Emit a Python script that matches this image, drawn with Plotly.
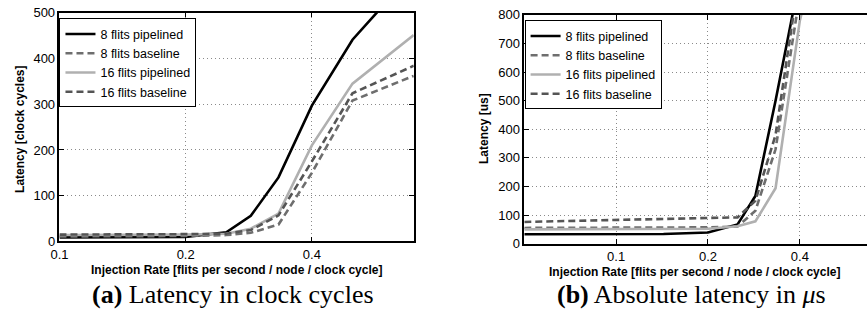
import plotly.graph_objects as go

# ---- (a) latency in clock cycles ----
rate_a = [0.1, 0.111, 0.125, 0.143, 0.167, 0.2, 0.25, 0.286, 0.333, 0.4, 0.5, 0.7]
cyc_8_pipe = [9, 9, 9, 9, 9, 10, 20, 56, 140, 297, 441, 590]
cyc_8_base = [11, 11, 11, 11, 11, 12, 14, 19, 37, 150, 308, 362]
cyc_16_pipe = [14, 14, 14, 14, 14, 15, 17, 28, 61, 210, 345, 451]
cyc_16_base = [15, 15, 15, 15, 15, 16, 17, 25, 57, 175, 324, 384]

# ---- (b) absolute latency in microseconds ----
rate_b = [0.05, 0.0667, 0.1, 0.143, 0.2, 0.25, 0.286, 0.333, 0.4, 0.5, 0.7]
us_8_pipe = [33, 33, 33, 34, 39, 67, 167, 500, 930, 1500, 2000]
us_8_base = [55, 55, 55, 56, 57, 60, 115, 330, 870, 1400, 1900]
us_16_pipe = [50, 50, 50, 50, 52, 61, 78, 194, 780, 1200, 1600]
us_16_base = [76, 79, 83, 87, 90, 92, 150, 380, 950, 1500, 2000]

series_names = ["8 flits pipelined", "8 flits baseline", "16 flits pipelined", "16 flits baseline"]
x_ticks = [0.1, 0.2, 0.4]
x_ticktext = ["0.1", "0.2", "0.4"]
ya_ticks = [0, 100, 200, 300, 400, 500]
yb_ticks = [0, 100, 200, 300, 400, 500, 600, 700, 800]

styles = [
    dict(color="#000000", width=2.6, dash="solid"),
    dict(color="#6e6e6e", width=2.6, dash="7px,4px"),
    dict(color="#b0b0b0", width=2.6, dash="solid"),
    dict(color="#555555", width=2.6, dash="7px,4px"),
]

SANS = "Liberation Sans, Arial, sans-serif"
SERIF = "Liberation Serif, Times New Roman, serif"

fig = go.Figure()

for name, ys, st in zip(series_names, [cyc_8_pipe, cyc_8_base, cyc_16_pipe, cyc_16_base], styles):
    fig.add_trace(go.Scatter(x=rate_a, y=ys, mode="lines", name=name, line=st,
                             xaxis="x", yaxis="y", legend="legend"))
for name, ys, st in zip(series_names, [us_8_pipe, us_8_base, us_16_pipe, us_16_base], styles):
    fig.add_trace(go.Scatter(x=rate_b, y=ys, mode="lines", name=name, line=st,
                             xaxis="x2", yaxis="y2", legend="legend2"))

W, H = 867, 320


def px_x(p):
    return p / W


def px_y(p):
    return 1 - p / H


axis_common = dict(
    showline=True, linecolor="black", linewidth=1.5,
    ticks="inside", ticklen=5, tickcolor="black", tickwidth=1,
    showgrid=True, gridcolor="#8a8a8a", gridwidth=1, griddash="1px,3px",
    zeroline=False, tickfont=dict(family=SANS, size=13, color="black"),
)

legend_common = dict(
    xanchor="left", yanchor="top",
    bgcolor="white", bordercolor="black", borderwidth=1,
    font=dict(family=SANS, size=12.5, color="black"),
    tracegroupgap=0, itemwidth=30,
)

fig.update_layout(
    width=W, height=H,
    margin=dict(l=0, r=0, t=0, b=0),
    paper_bgcolor="white", plot_bgcolor="white",
    showlegend=True,
    xaxis=dict(axis_common, type="log", domain=[px_x(51), px_x(409)],
               range=[-1, -0.154902], tickvals=x_ticks, ticktext=x_ticktext,
               mirror="allticks", anchor="y", ticklabelstandoff=0),
    yaxis=dict(axis_common, domain=[px_y(246), px_y(6)], range=[0, 500],
               tickvals=ya_ticks, mirror="allticks", anchor="x"),
    xaxis2=dict(axis_common, type="log", domain=[px_x(520.7), 1.0],
                range=[-1.30103, -0.17782], tickvals=x_ticks, ticktext=x_ticktext,
                mirror="allticks", anchor="y2", ticklabelstandoff=0),
    yaxis2=dict(axis_common, domain=[px_y(248.3), px_y(8.3)], range=[0, 800],
                tickvals=yb_ticks, mirror=False, anchor="x2"),
    legend=dict(legend_common, x=px_x(51), y=px_y(12)),
    legend2=dict(legend_common, x=px_x(521), y=px_y(14)),
)

annotations = [
    dict(text="<b>Injection Rate [flits per second / node / clock cycle]</b>",
         x=px_x(230), y=px_y(276), font=dict(family=SANS, size=12, color="black")),
    dict(text="<b>Injection Rate [flits per second / node / clock cycle]</b>",
         x=px_x(693), y=px_y(278), font=dict(family=SANS, size=12, color="black")),
    dict(text="<b>Latency [clock cycles]</b>", textangle=-90,
         x=px_x(11), y=px_y(128), font=dict(family=SANS, size=12, color="black")),
    dict(text="<b>Latency [us]</b>", textangle=-90,
         x=px_x(480), y=px_y(128), font=dict(family=SANS, size=12, color="black")),
    dict(text="<b>(a)</b> Latency in clock cycles",
         x=px_x(226), y=px_y(302), font=dict(family=SERIF, size=26, color="black")),
    dict(text="<b>(b)</b> Absolute latency in <i>μ</i>s",
         x=px_x(690), y=px_y(302), font=dict(family=SERIF, size=26, color="black")),
]
for a in annotations:
    a.update(xref="paper", yref="paper", showarrow=False, xanchor="center", yanchor="middle")
fig.update_layout(annotations=annotations)

fig.write_html("out.html")
